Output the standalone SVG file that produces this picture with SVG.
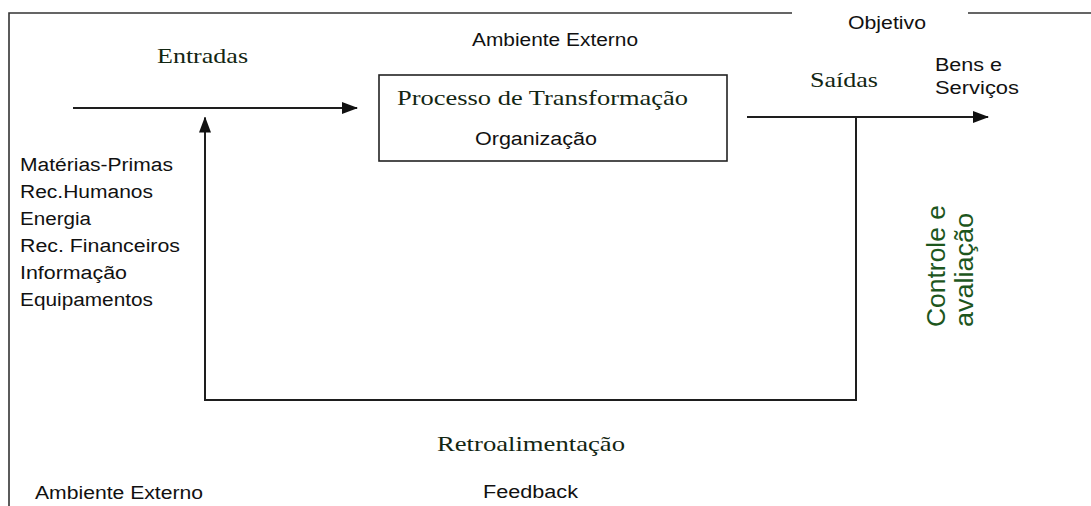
<svg xmlns="http://www.w3.org/2000/svg" width="1091" height="506" viewBox="0 0 1091 506">
<style>
.ln{stroke:#1e1e1e;stroke-width:2;fill:none}
.frame{stroke:#333;stroke-width:1.6;fill:none}
.sans{font-family:"Liberation Sans",Arial,sans-serif;font-size:18px;fill:#111}
.serif{font-family:"Liberation Serif","Times New Roman",serif;font-size:22px;fill:#132613}
.green{font-family:"Liberation Sans",Arial,sans-serif;font-size:25px;fill:#1d561d}
</style>
<defs>
<marker id="ah" markerWidth="16" markerHeight="12" refX="15" refY="6" orient="auto" markerUnits="userSpaceOnUse">
<path d="M0,0 L16,6 L0,12 Z" fill="#111"/>
</marker>
</defs>
<rect width="1091" height="506" fill="#fff"/>
<g id="frame">
<path class="frame" d="M9,506 V13 H792 M968,13 H1091"/>
</g>
<g id="connectors">
<line class="ln" x1="73" y1="108" x2="357" y2="108" marker-end="url(#ah)"/>
<line class="ln" x1="747" y1="117" x2="988" y2="117" marker-end="url(#ah)"/>
<path class="ln" d="M856,117 V400 H205 V117.5" marker-end="url(#ah)"/>
</g>
<g id="process">
<rect x="379" y="75" width="348" height="86" fill="#fff" stroke="#222" stroke-width="1.6"/>
<text class="serif" x="397" y="105" textLength="291" lengthAdjust="spacingAndGlyphs">Processo de Transformação</text>
<text class="sans" x="475" y="145" textLength="122" lengthAdjust="spacingAndGlyphs">Organização</text>
</g>
<g id="inputs">
<text class="serif" x="157" y="63" textLength="91" lengthAdjust="spacingAndGlyphs">Entradas</text>
<text class="sans" x="20" y="171" textLength="153" lengthAdjust="spacingAndGlyphs">Matérias-Primas</text>
<text class="sans" x="20" y="198" textLength="133" lengthAdjust="spacingAndGlyphs">Rec.Humanos</text>
<text class="sans" x="20" y="225" textLength="71" lengthAdjust="spacingAndGlyphs">Energia</text>
<text class="sans" x="20" y="252" textLength="160" lengthAdjust="spacingAndGlyphs">Rec. Financeiros</text>
<text class="sans" x="20" y="279" textLength="107" lengthAdjust="spacingAndGlyphs">Informação</text>
<text class="sans" x="20" y="306" textLength="133" lengthAdjust="spacingAndGlyphs">Equipamentos</text>
</g>
<g id="environment">
<text class="sans" x="472" y="46" textLength="166" lengthAdjust="spacingAndGlyphs">Ambiente Externo</text>
<text class="sans" x="35" y="499" textLength="168" lengthAdjust="spacingAndGlyphs">Ambiente Externo</text>
</g>
<g id="outputs">
<text class="sans" x="848" y="29" textLength="78" lengthAdjust="spacingAndGlyphs">Objetivo</text>
<text class="serif" x="810" y="87" textLength="68" lengthAdjust="spacingAndGlyphs">Saídas</text>
<text class="sans" x="935" y="71" textLength="67" lengthAdjust="spacingAndGlyphs">Bens e</text>
<text class="sans" x="935" y="94" textLength="84" lengthAdjust="spacingAndGlyphs">Serviços</text>
</g>
<g id="control">
<text class="green" transform="translate(945,327) rotate(-90)" textLength="122" lengthAdjust="spacingAndGlyphs">Controle e</text>
<text class="green" transform="translate(973,327) rotate(-90)" textLength="114" lengthAdjust="spacingAndGlyphs">avaliação</text>
</g>
<g id="feedback">
<text class="serif" x="437" y="451" textLength="188" lengthAdjust="spacingAndGlyphs">Retroalimentação</text>
<text class="sans" x="483" y="498" textLength="95" lengthAdjust="spacingAndGlyphs">Feedback</text>
</g>
</svg>
